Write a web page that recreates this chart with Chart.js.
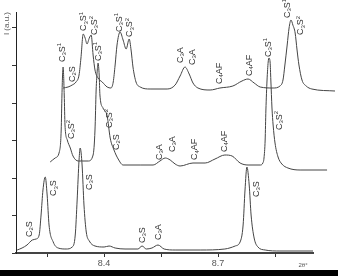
<!DOCTYPE html>
<html>
<head>
<meta charset="utf-8">
<script src="https://cdn.jsdelivr.net/npm/chart.js@4.4.0/dist/chart.umd.min.js"></script>
<style>
  html, body { margin: 0; padding: 0; background: #000; }
  .wrap { width: 338px; height: 270px; background: #fff; }
</style>
</head>
<body>
<div class="wrap"><canvas id="xrd" width="338" height="270"></canvas></div>
<script>
// 2theta positions and intensities (a.u.) of the three stacked patterns
const botX = [8.171, 8.184, 8.197, 8.211, 8.221, 8.229, 8.234, 8.239, 8.245, 8.250, 8.255, 8.266, 8.279, 8.300, 8.316, 8.324, 8.329, 8.334, 8.337, 8.342, 8.347, 8.353, 8.361, 8.376, 8.400, 8.413, 8.429, 8.455, 8.489, 8.500, 8.511, 8.526, 8.542, 8.558, 8.587, 8.653, 8.718, 8.745, 8.758, 8.766, 8.771, 8.776, 8.782, 8.787, 8.795, 8.805, 8.824, 8.863, 8.950];
const botY = [3, 5, 8, 13, 14, 18, 38, 63, 76, 58, 28, 11, 5, 4, 6, 18, 53, 93, 105, 88, 48, 21, 12, 7, 6, 7, 5, 4, 4, 7, 4, 5, 8, 4, 3, 3, 4, 7, 11, 28, 63, 86, 68, 38, 15, 6, 3, 2, 2];

const midX = [8.258, 8.271, 8.282, 8.287, 8.289, 8.292, 8.295, 8.297, 8.303, 8.311, 8.318, 8.332, 8.358, 8.371, 8.376, 8.379, 8.382, 8.384, 8.387, 8.389, 8.397, 8.408, 8.416, 8.426, 8.437, 8.450, 8.495, 8.529, 8.547, 8.561, 8.574, 8.587, 8.600, 8.634, 8.666, 8.692, 8.718, 8.737, 8.758, 8.779, 8.811, 8.818, 8.821, 8.824, 8.826, 8.829, 8.832, 8.834, 8.837, 8.839, 8.842, 8.845, 8.850, 8.858, 8.868, 8.884, 8.916, 8.987];
const midY = [91, 95, 101, 123, 158, 186, 158, 128, 113, 105, 97, 92, 92, 98, 123, 163, 183, 190, 178, 158, 145, 137, 115, 103, 94, 88, 88, 88, 92, 95, 93, 89, 87, 90, 90, 94, 98, 97, 90, 88, 88, 90, 95, 113, 143, 173, 191, 195, 191, 173, 145, 128, 110, 96, 89, 85, 83, 83];

const topX = [8.292, 8.305, 8.316, 8.326, 8.334, 8.339, 8.345, 8.350, 8.355, 8.361, 8.366, 8.371, 8.376, 8.384, 8.395, 8.408, 8.418, 8.424, 8.429, 8.434, 8.442, 8.450, 8.458, 8.466, 8.471, 8.476, 8.484, 8.495, 8.521, 8.566, 8.587, 8.600, 8.613, 8.624, 8.634, 8.647, 8.679, 8.705, 8.739, 8.763, 8.779, 8.795, 8.811, 8.845, 8.863, 8.871, 8.876, 8.882, 8.887, 8.892, 8.897, 8.903, 8.908, 8.913, 8.921, 8.932, 8.947, 9.008];
const topY = [165, 166, 168, 171, 178, 195, 219, 215, 209, 215, 218, 198, 183, 175, 171, 166, 165, 171, 188, 208, 221, 213, 204, 214, 203, 186, 171, 166, 164, 164, 168, 177, 186, 179, 170, 165, 163, 165, 167, 172, 174, 170, 166, 165, 167, 173, 188, 208, 225, 233, 228, 220, 203, 188, 173, 167, 164, 162];

// x ticks, only two of them carry a label
const xTicks = [8.25, 8.4, 8.55, 8.7, 8.85];
const xTickLabels = ["", "8.4", "", "8.7", ""];

// phase tags: "_" = subscript, "^" = superscript
const tagText = ["C_2S", "C_3S^1", "C_3S^2", "C_3S^1", "C_3S^2", "C_3A", "C_3A", "C_4AF", "C_4AF", "C_3S^1", "C_3S^2",
  "C_3S^1", "C_3S^2", "C_3S^1", "C_3S^2", "C_2S", "C_3A", "C_3A", "C_4AF", "C_4AF", "C_3S^1", "C_3S^2",
  "C_2S", "C_3S", "C_3S", "C_3S", "C_3A", "C_3S"];
const tagX = [8.316, 8.347, 8.374, 8.441, 8.468, 8.600, 8.632, 8.703, 8.782, 8.882, 8.918,
  8.291, 8.313, 8.386, 8.413, 8.432, 8.545, 8.579, 8.639, 8.716, 8.833, 8.861,
  8.203, 8.268, 8.361, 8.500, 8.542, 8.800];
const tagY = [171, 222, 218, 221, 216, 190, 188, 169, 177, 235, 218,
  191, 114, 192, 125, 103, 93, 101, 93, 101, 196, 123,
  16, 57, 63, 10, 13, 56];

const toPts = (xs, ys) => xs.map((x, i) => ({ x: x, y: ys[i] }));

function drawTag(ctx, str, px, py) {
  ctx.save();
  ctx.translate(px, py);
  ctx.rotate(-Math.PI / 2);
  ctx.textBaseline = "middle";
  ctx.textAlign = "left";
  ctx.fillStyle = "#333";
  let x = 0;
  for (let i = 0; i < str.length; i++) {
    let ch = str[i], dy = 0, size = 9;
    if (ch === "_" || ch === "^") {
      dy = ch === "_" ? 2 : -3;
      size = 6;
      ch = str[++i];
    }
    ctx.font = size + 'px "Liberation Sans", Arial, sans-serif';
    ctx.fillText(ch, x, dy);
    x += ctx.measureText(ch).width;
  }
  ctx.restore();
}

const tagPlugin = {
  id: "tags",
  afterDatasetsDraw(chart) {
    const { ctx, scales, chartArea } = chart;
    tagText.forEach((t, i) => {
      drawTag(ctx, t, scales.x.getPixelForValue(tagX[i]), scales.y.getPixelForValue(tagY[i]));
    });
    ctx.save();
    ctx.fillStyle = "#555";
    ctx.font = '6px "Liberation Sans", Arial, sans-serif';
    ctx.textAlign = "center";
    ctx.textBaseline = "middle";
    ctx.fillText("2θ°", chartArea.right - 10, chartArea.bottom + 12);
    ctx.restore();
  }
};

const line = (xs, ys) => ({
  data: toPts(xs, ys),
  borderColor: "#444",
  borderWidth: 1,
  pointRadius: 0,
  cubicInterpolationMode: "monotone",
  clip: false
});

new Chart(document.getElementById("xrd"), {
  type: "line",
  data: { datasets: [line(botX, botY), line(midX, midY), line(topX, topY)] },
  options: {
    responsive: false,
    animation: false,
    devicePixelRatio: 1,
    layout: { padding: { top: 12, right: 25, left: 0, bottom: 0 } },
    plugins: { legend: { display: false }, tooltip: { enabled: false } },
    scales: {
      x: {
        type: "linear",
        min: 8.168,
        max: 8.95,
        afterBuildTicks: s => { s.ticks = xTicks.map(v => ({ value: v })); },
        afterFit: s => { s.height = 17; },
        ticks: {
          autoSkip: false,
          maxRotation: 0,
          padding: 1,
          color: "#555",
          font: { size: 9, family: '"Liberation Sans", Arial, sans-serif' },
          callback: (v, i) => xTickLabels[i]
        },
        grid: { drawOnChartArea: false, tickLength: 4, color: "#333" },
        border: { color: "#444", width: 2 }
      },
      y: {
        min: 0,
        max: 241,
        afterBuildTicks: s => {
          s.ticks = [0, 37.5, 75, 112.5, 150, 187.5, 225].map(v => ({ value: v }));
        },
        afterFit: s => { s.width = 16; },
        ticks: { display: false },
        grid: { drawOnChartArea: false, tickLength: 4, color: "#333" },
        border: { color: "#222", width: 1 },
        title: {
          display: true,
          text: "I (a.u.)",
          align: "end",
          color: "#555",
          padding: { top: 2, bottom: 0 },
          font: { size: 8, family: '"Liberation Sans", Arial, sans-serif' }
        }
      }
    }
  },
  plugins: [tagPlugin]
});
</script>
</body>
</html>
